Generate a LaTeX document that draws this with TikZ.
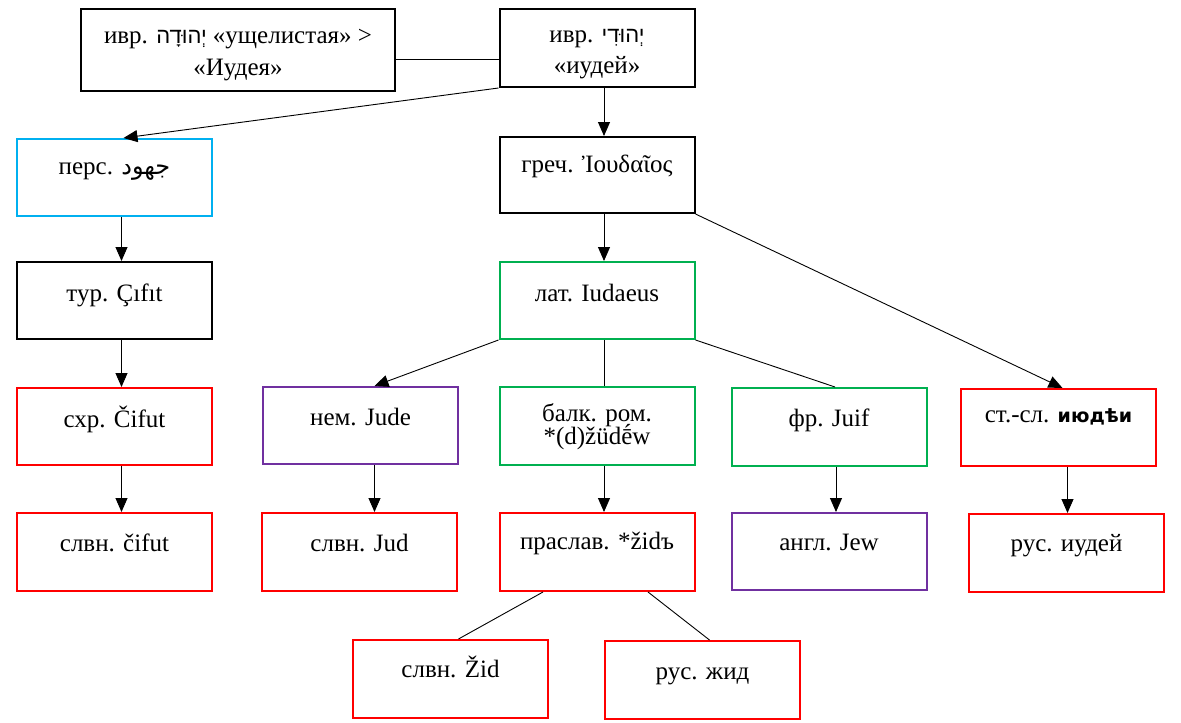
\documentclass[tikz,border=0pt]{standalone}
\usepackage{fontspec}
\setmainfont{Liberation Serif}
\newfontfamily\hebfont[Script=Hebrew]{Liberation Sans}
\newfontfamily\arabfont[Script=Arabic]{DejaVu Sans}
\newfontfamily\slavfont{DejaVu Sans}
\TeXXeTstate=1
\usetikzlibrary{arrows.meta,calc}
\definecolor{cyanb}{HTML}{00B0F0}
\definecolor{greenb}{HTML}{00B050}
\definecolor{purpleb}{HTML}{7030A0}
\definecolor{redb}{HTML}{FF0000}
\begin{document}
\begin{tikzpicture}[x=1pt,y=-1pt,
 box/.style={draw=#1,line width=2pt,inner sep=0pt,minimum width=195pt,minimum height=77pt},
 txt/.style={inner sep=0pt,anchor=base,font=\fontsize{25}{29}\selectfont},
 link/.style={line width=0.9pt},
 arr/.style={link,-{Triangle[length=14pt,width=12pt]}}]
\useasboundingbox[fill=white] (0,0) rectangle (1181,723);
% boxes
\node[box=black,minimum width=314pt,minimum height=82pt] (hebA) at (238,50) {};
\node[box=black,minimum height=78pt] (hebB) at (597,48) {};
\node[box=cyanb] (pers) at (114.5,177.5) {};
\node[box=black,minimum height=76pt] (grk) at (597,175) {};
\node[box=black] (tur) at (114.5,300.5) {};
\node[box=greenb] (lat) at (597,300.5) {};
\node[box=redb] (sxr) at (114.5,426.5) {};
\node[box=purpleb] (nem) at (360.5,425.5) {};
\node[box=greenb,minimum height=78pt] (balk) at (597,426) {};
\node[box=greenb,minimum height=78pt] (fr) at (829,427) {};
\node[box=redb] (stsl) at (1058.5,427.5) {};
\node[box=redb,minimum height=78pt] (slvA) at (114.5,552) {};
\node[box=redb,minimum height=78pt] (slvB) at (359.5,552) {};
\node[box=redb,minimum height=78pt] (prasl) at (597,552) {};
\node[box=purpleb] (angl) at (829,551.5) {};
\node[box=redb,minimum height=78pt] (rusA) at (1066.5,553) {};
\node[box=redb,minimum height=78pt] (slvC) at (450.5,679) {};
\node[box=redb,minimum height=78pt] (rusB) at (702.5,680) {};
% texts
\node[txt] (tA1) at (238,43) {ивр. {\hebfont\fontsize{22}{26}\selectfont\beginR יְהוּדָה\endR} «ущелистая» >};
\node[txt] (tA2) at (238,75) {«Иудея»};
\node[txt] (tB1) at (597,42) {ивр. {\hebfont\fontsize{22}{26}\selectfont\beginR יְהוּדִי\endR}};
\node[txt] (tB2) at (597,73) {«иудей»};
\node[txt] (tPers) at (114.5,174) {перс. {\arabfont\fontsize{24}{28}\selectfont\beginR جهود\endR}};
\node[txt] (tGrk) at (597,172) {греч. Ἰουδαῖος};
\node[txt] (tTur) at (114.5,301) {тур. Çıfıt};
\node[txt] (tLat) at (597,301) {лат. Iudaeus};
\node[txt] (tSxr) at (114.5,427) {схр. Čifut};
\node[txt] (tNem) at (360.5,425) {нем. Jude};
\node[txt] (tBalk1) at (597,421) {балк. ром.};
\node[txt] (tBalk2) at (597,444) {*(d)žüdḗw};
\node[txt] (tFr) at (829,426) {фр. Juif};
\node[txt] (tStsl) at (1058.5,422) {ст.-сл. {\slavfont\bfseries\fontsize{19}{22}\selectfont июдѣи}};
\node[txt] (tSlvA) at (114.5,551) {слвн. čifut};
\node[txt] (tSlvB) at (359.5,551) {слвн. Jud};
\node[txt] (tPrasl) at (597,549) {праслав. *židъ};
\node[txt] (tAngl) at (829,550) {англ. Jew};
\node[txt] (tRusA) at (1066.5,551) {рус. иудей};
\node[txt] (tSlvC) at (450.5,677) {слвн. Žid};
\node[txt] (tRusB) at (702.5,679) {рус. жид};
% connectors
\draw[link] ([yshift=-9pt]hebA.east) -- ([yshift=-9pt]hebA.east -| hebB.west);
\draw[arr] (hebB.south west) -- ([xshift=9pt]pers.north);
\draw[arr] ([xshift=7pt]hebB.south) -- ([xshift=7pt]grk.north);
\draw[arr] ([xshift=7pt]pers.south) -- ([xshift=7pt]tur.north);
\draw[arr] ([xshift=7pt]tur.south) -- ([xshift=7pt]sxr.north);
\draw[arr] ([xshift=7pt]sxr.south) -- ([xshift=7pt]slvA.north);
\draw[arr] ([xshift=7pt]grk.south) -- ([xshift=7pt]lat.north);
\draw[arr] (grk.south east) -- ([xshift=4pt]stsl.north);
\draw[arr] (lat.south west) -- ([xshift=14pt]nem.north);
\draw[link] ([xshift=7pt]lat.south) -- ([xshift=7pt]balk.north);
\draw[link] (lat.south east) -- ([xshift=6pt]fr.north);
\draw[arr] ([xshift=14pt]nem.south) -- ([xshift=15pt]slvB.north);
\draw[arr] ([xshift=7pt]balk.south) -- ([xshift=7pt]prasl.north);
\draw[arr] ([xshift=7pt]fr.south) -- ([xshift=7pt]angl.north);
\draw[arr] ([xshift=9pt]stsl.south) -- ([xshift=1pt]rusA.north);
\draw[link] ([xshift=-54pt]prasl.south) -- ([xshift=8pt]slvC.north);
\draw[link] ([xshift=51pt]prasl.south) -- ([xshift=7pt]rusB.north);
\end{tikzpicture}
\end{document}
